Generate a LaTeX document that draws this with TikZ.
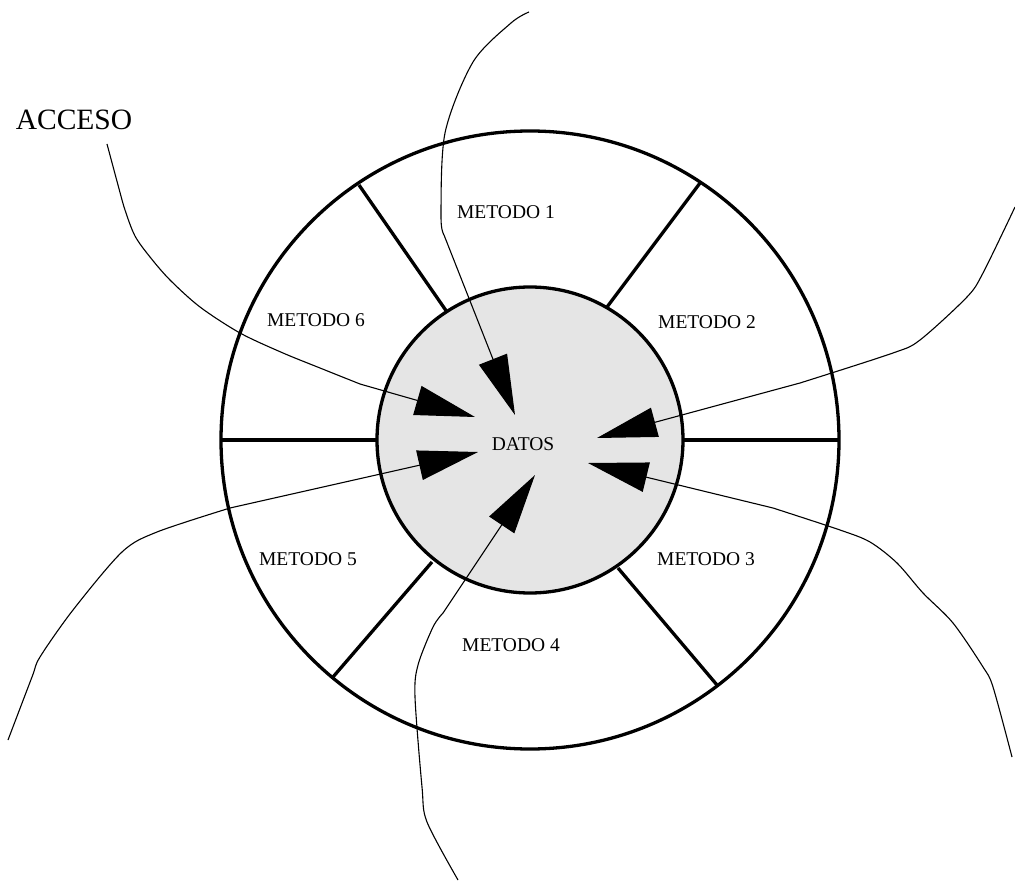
\documentclass[tikz,border=0pt]{standalone}
\usepackage{fontspec}
\setmainfont{Liberation Serif}
\usetikzlibrary{arrows.meta}
\begin{document}
\begin{tikzpicture}[x=1pt,y=-1pt,
  thickline/.style={line width=3.3pt},
  wire/.style={line width=1.1pt,-{Triangle[length=60pt,width=30pt]}},
  lab/.style={font=\fontsize{19.5}{22}\selectfont,inner sep=0pt},
  biglab/.style={font=\fontsize{29.5}{33}\selectfont,inner sep=0pt}]
\useasboundingbox (0,0) rectangle (1015,893);
\coordinate (c) at (530,440);
% inner data circle
\fill[black!10] (c) circle[radius=153];
% dividers
\draw[thickline] (222,440) -- (378,440);
\draw[thickline] (682,440) -- (838,440);
\draw[thickline] (359,185) -- (447,312);
\draw[thickline] (700,183) -- (607,307);
\draw[thickline] (333,677) -- (432,562);
\draw[thickline] (717,685) -- (618,568);
\draw[thickline] (c) circle[radius=309];
\draw[thickline] (c) circle[radius=153];
% labels
\node[lab] (m1) at (506,212) {METODO 1};
\node[lab] (m2) at (707,322) {METODO 2};
\node[lab] (m3) at (706,559) {METODO 3};
\node[lab] (m4) at (511,645) {METODO 4};
\node[lab] (m5) at (308,559) {METODO 5};
\node[lab] (m6) at (316,320) {METODO 6};
\node[lab] (datos) at (523,444) {DATOS};
\node[biglab] (acceso) at (74,120) {ACCESO};
% arrow tips
\coordinate (t1) at (515,415);
\coordinate (t2) at (597,438);
\coordinate (t3) at (588,463);
\coordinate (t4) at (535,475);
\coordinate (t5) at (478,452);
\coordinate (t6) at (475,417);
% access curves
\draw[wire] plot[smooth] coordinates {(529,12) (511,23) (473,62) (445,133) (441,217) (444,235)} -- (t1);
\draw[wire] plot[smooth] coordinates {(1015,207) (983,273) (967,297) (920,340) (893,353) (800,383)} -- (t2);
\draw[wire] plot[smooth] coordinates {(1012,757) (993,687) (983,667) (953,623) (923,593) (897,563) (870,542) (840,530) (773,508)} -- (t3);
\draw[wire] plot[smooth] coordinates {(458,880) (427,822) (422,787) (415,697) (418,665) (433,627) (443,613)} -- (t4);
\draw[wire] plot[smooth] coordinates {(8,740) (32,677) (40,657) (73,610) (122,552) (157,532) (230,508)} -- (t5);
\draw[wire] plot[smooth] coordinates {(107,144) (118,185) (125,210) (135,236) (150,257) (170,280) (200,307) (240,333) (283,353) (320,368) (360,384)} -- (t6);
\end{tikzpicture}
\end{document}
